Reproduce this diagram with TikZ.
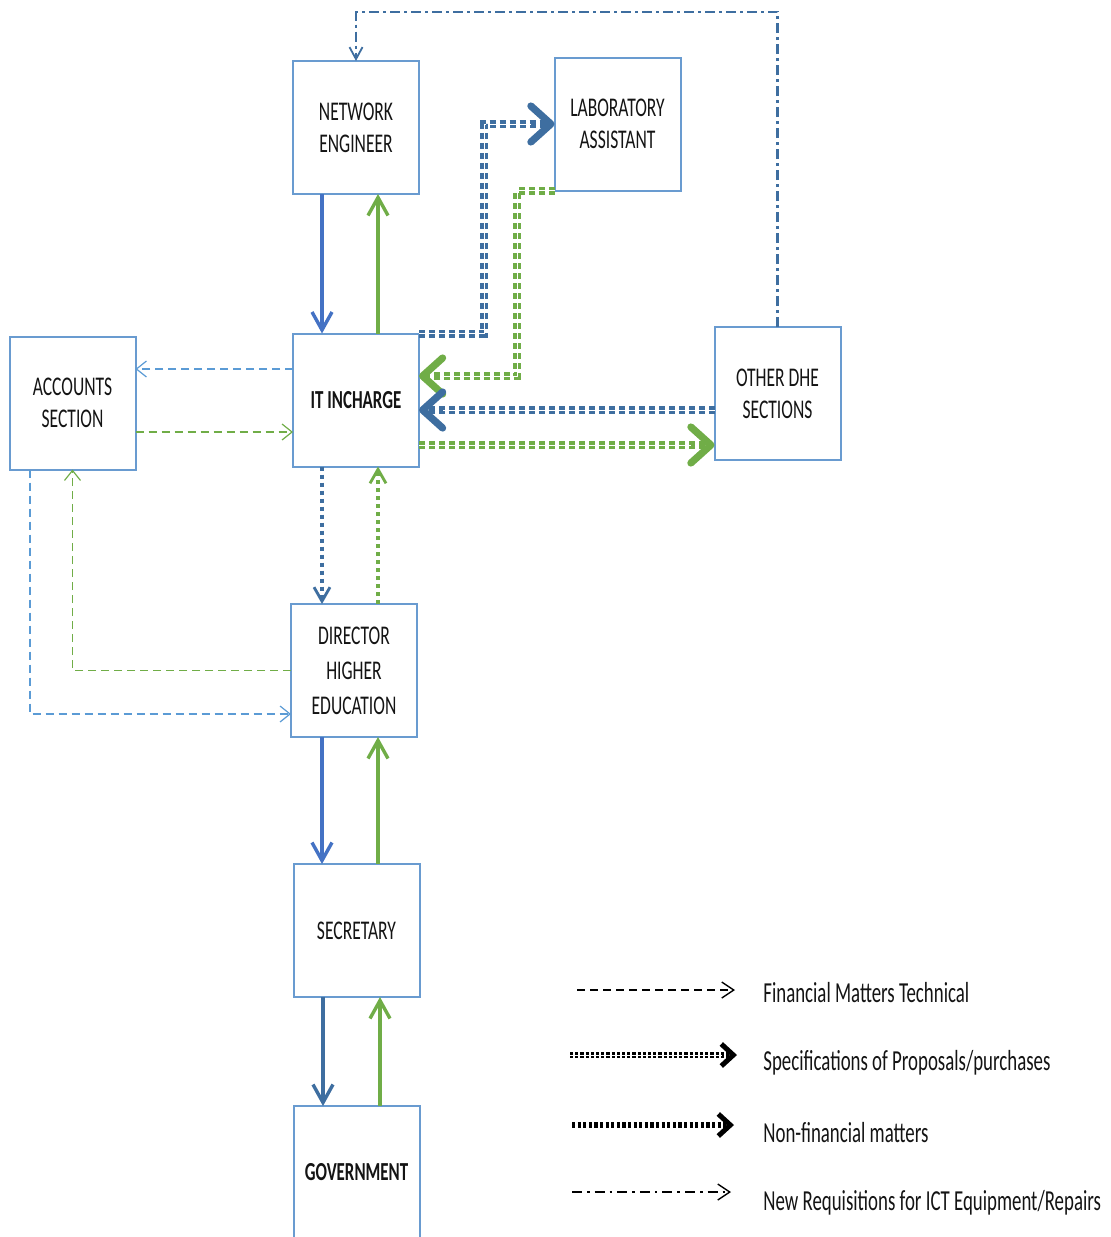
\documentclass[tikz,border=0pt]{standalone}
\usepackage{fontspec}
\setmainfont{Carlito}[FakeStretch=0.65]
\usetikzlibrary{arrows.meta}
\definecolor{boxblue}{RGB}{105,155,208}
\definecolor{mblue}{RGB}{68,114,196}
\definecolor{sblue}{RGB}{62,110,160}
\definecolor{lblue}{RGB}{91,155,213}
\definecolor{mgreen}{RGB}{112,173,71}
\definecolor{txt}{RGB}{20,20,20}
\begin{document}
\begin{tikzpicture}[x=0.5pt,y=-0.5pt,
  box/.style={draw=boxblue,line width=1pt,fill=white,minimum width=63pt,minimum height=66.5pt,
    inner sep=0pt,outer sep=0pt,align=center,text=txt,font=\fontsize{13.5}{16}\selectfont},
  boldbox/.style={box,font=\fontsize{13}{16}\selectfont\bfseries},
  solidarr/.style={line width=1.8pt,-{Straight Barb[length=9pt,width=10pt,line width=1.7pt]}},
  fin/.style={line width=0.9pt,dash pattern=on 4pt off 2.5pt,
    -{Straight Barb[length=5pt,width=8pt,line width=0.6pt]}},
  nonfin/.style={line width=2.2pt,dash pattern=on 2pt off 2pt,
    -{Straight Barb[length=7pt,width=8pt,line width=1.4pt]}},
  spec/.style={line width=4pt,dash pattern=on 3pt off 2pt,
    -{Straight Barb[length=10pt,width=18pt,line width=3.6pt,round]},
    postaction={draw=white,line width=0.5pt,arrows=-,shorten >=12pt}},
  newreq/.style={line width=1.4pt,dash pattern=on 5pt off 2pt on 1.5pt off 2pt,
    -{Straight Barb[length=6pt,width=6.5pt,line width=0.9pt]}},
  legtxt/.style={anchor=west,inner sep=0pt,text=txt,font=\fontsize{14.5}{17}\selectfont}
]
\useasboundingbox[fill=white] (0,0) rectangle (1110,1237);
\clip (0,0) rectangle (1110,1237);

% boxes
\node[box] (ne) at (356,127.5) {NETWORK\\ENGINEER};
\node[box] (lab) at (617.5,124) {LABORATORY\\ASSISTANT};
\node[box] (acc) at (72.5,403) {ACCOUNTS\\SECTION};
\node[boldbox] (it) at (356,400) {IT INCHARGE};
\node[box] (dhe) at (777.5,393.5) {OTHER DHE\\SECTIONS};
\node[box,font=\fontsize{13.5}{17.5}\selectfont] (dir) at (354,670.5) {DIRECTOR\\HIGHER\\EDUCATION};
\node[box] (sec) at (356.5,930.5) {SECRETARY};
\node[boldbox] (gov) at (356.5,1172.5) {GOVERNMENT};

% Network engineer <-> IT incharge
\draw[solidarr,mblue] ([xshift=-17pt]ne.south) -- ([xshift=-17pt]it.north);
\draw[solidarr,mgreen] ([xshift=11pt]it.north) -- ([xshift=11pt]ne.south);

% Director <-> Secretary
\draw[solidarr,mblue] ([xshift=-16pt]dir.south) -- ([xshift=-16pt]dir.south |- sec.north);
\draw[solidarr,mgreen] ([xshift=12pt]dir.south |- sec.north) -- ([xshift=12pt]dir.south);

% Secretary <-> Government
\draw[solidarr,sblue] ([xshift=-16.75pt]sec.south) -- ([xshift=-16.75pt]gov.north);
\draw[solidarr,mgreen] ([xshift=11.75pt]gov.north) -- ([xshift=11.75pt]sec.south);

% IT incharge <-> Director
\draw[nonfin,sblue] ([xshift=-17pt]it.south) -- ([xshift=-17pt]it.south |- dir.north);
\draw[nonfin,mgreen] ([xshift=11pt]it.south |- dir.north) -- ([xshift=11pt]it.south);

% IT incharge <-> Accounts
\draw[fin,lblue] ([yshift=15.5pt]it.west) -- ([yshift=15.5pt]it.west -| acc.east);
\draw[fin,mgreen] ([yshift=-14.5pt]acc.east) -- ([yshift=-14.5pt]acc.east -| it.west);

% Accounts <-> Director
\draw[fin,lblue] ([xshift=-21.25pt]acc.south) |- ([yshift=-21.75pt]dir.west);
\draw[fin,mgreen] (dir.west) -| (acc.south);

% IT incharge <-> Laboratory assistant
\coordinate (labbend) at (484,124);
\coordinate (gbend) at (517,376);
\draw[spec,sblue] (it.north east) -| (labbend) -- (lab.west);
\draw[spec,mgreen] (lab.south west) -| (gbend) -- (gbend -| it.east);

% Other DHE <-> IT incharge
\draw[spec,sblue] ([yshift=-8.25pt]dhe.west) -- ([yshift=-8.25pt]dhe.west -| it.east);
\draw[spec,mgreen] ([yshift=-22.5pt]it.east) -- ([yshift=-22.5pt]it.east -| dhe.west);

% Other DHE -> Network engineer
\coordinate (topc) at (356,12);
\draw[newreq,sblue] (dhe.north) |- (topc) -- (ne.north);

% legend
\node[legtxt] (t1) at (763,993) {Financial Matters Technical};
\node[legtxt] (t2) at (763,1063) {Specifications of Proposals/purchases};
\node[legtxt] (t3) at (763,1133) {Non-financial matters};
\node[legtxt] (t4) at (763,1203) {New Requisitions for ICT Equipment/Repairs};
\coordinate (l1s) at (577,990);  \coordinate (l1e) at (735,990);
\coordinate (l2s) at (570,1055); \coordinate (l2e) at (737,1055);
\coordinate (l3s) at (572,1125); \coordinate (l3e) at (734,1125);
\coordinate (l4s) at (572,1192); \coordinate (l4e) at (731,1192);
\draw[black,line width=0.9pt,dash pattern=on 4pt off 2.5pt,
  -{Straight Barb[length=6pt,width=8pt,line width=0.7pt]}] (l1s) -- (l1e);
\draw[black,line width=3pt,dash pattern=on 1.6pt off 1pt,
  -{Straight Barb[length=6pt,width=11pt,line width=2.5pt]},
  postaction={draw=white,line width=0.4pt,arrows=-,shorten >=8pt}] (l2s) -- (l2e);
\draw[black,line width=3pt,dash pattern=on 1.6pt off 1.2pt,
  -{Straight Barb[length=6pt,width=11pt,line width=2.5pt]}] (l3s) -- (l3e);
\draw[black,line width=1.2pt,dash pattern=on 5pt off 2.5pt on 1.3pt off 2.5pt,
  -{Straight Barb[length=6pt,width=8pt,line width=0.7pt]}] (l4s) -- (l4e);
\end{tikzpicture}
\end{document}
